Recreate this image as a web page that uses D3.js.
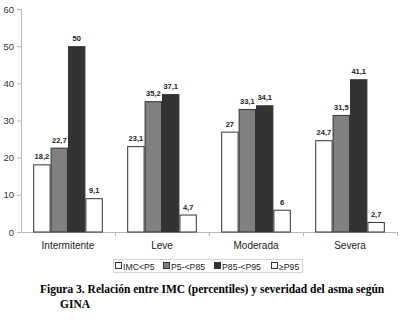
<!DOCTYPE html>
<html><head><meta charset="utf-8">
<script src="https://cdn.jsdelivr.net/npm/d3@7"></script>
<style>body{margin:0;background:#fff}svg{display:block}</style>
</head><body>
<script>
const categories = ["Intermitente","Leve","Moderada","Severa"];
const seriesNames = ["IMC<P5","P5-<P85","P85-<P95","≥P95"];
const imcP5 = [18.2, 23.1, 27, 24.7];
const p5p85 = [22.7, 35.2, 33.1, 31.5];
const p85p95 = [50, 37.1, 34.1, 41.1];
const geP95 = [9.1, 4.7, 6, 2.7];
const yTicks = [0,10,20,30,40,50,60];
const series = [imcP5, p5p85, p85p95, geP95];
const fills = ["#ffffff","#808080","#333333","#ffffff"];

const W=400,H=326;
const svg=d3.select("body").append("svg").attr("width",W).attr("height",H);
const x=d3.scaleBand().domain(categories).range([21,397]);
const xs=d3.scaleBand().domain(d3.range(4)).range([0,x.bandwidth()]).paddingOuter(0.7).paddingInner(0);
const y=d3.scaleLinear().domain([0,60]).range([232,9]);
const sans="Liberation Sans, Arial, sans-serif";

// y axis
svg.append("line").attr("x1",21.5).attr("x2",21.5).attr("y1",y(60)).attr("y2",y(0)).attr("stroke","#b8b8b8");
yTicks.forEach(t=>{
  svg.append("line").attr("x1",17).attr("x2",21).attr("y1",y(t)+0.5).attr("y2",y(t)+0.5).attr("stroke","#b8b8b8");
  svg.append("text").attr("x",14).attr("y",y(t)+3.5).attr("text-anchor","end")
    .attr("font-family",sans).attr("font-size",9.5).attr("fill","#333").text(t);
});
// x axis
svg.append("line").attr("x1",21).attr("x2",397).attr("y1",y(0)+0.5).attr("y2",y(0)+0.5).attr("stroke","#b8b8b8");
categories.forEach((c,i)=>{
  const bx=Math.round(x(c)+x.bandwidth())+0.5;
  svg.append("line").attr("x1",bx).attr("x2",bx).attr("y1",y(0)).attr("y2",y(0)+4).attr("stroke","#b8b8b8");
});

// bars
series.forEach((s,si)=>{
  categories.forEach((c,ci)=>{
    const bx=x(c)+xs(si), v=s[ci];
    svg.append("rect").attr("x",bx+0.5).attr("y",y(v)+0.5).attr("width",xs.bandwidth()-1).attr("height",y(0)-y(v)-0.5)
      .attr("fill",fills[si]).attr("stroke","#333").attr("stroke-width",1);
    svg.append("text").attr("x",bx+xs.bandwidth()/2).attr("y",y(v)-5).attr("text-anchor","middle")
      .attr("font-family",sans).attr("font-size",7.5).attr("font-weight","bold")
      .attr("fill","#222").text(String(v).replace(".",","));
  });
});

// category labels
categories.forEach(c=>{
  svg.append("text").attr("x",x(c)+x.bandwidth()/2).attr("y",248.5).attr("text-anchor","middle")
    .attr("font-family",sans).attr("font-size",10).attr("fill","#222").text(c);
});

// legend
svg.append("rect").attr("x",113.5).attr("y",259.5).attr("width",189).attr("height",13).attr("fill","#fff").attr("stroke","#d4d4d4");
const lx=[115,163,214,271];
seriesNames.forEach((n,i)=>{
  svg.append("rect").attr("x",lx[i]+0.5).attr("y",262.5).attr("width",6).attr("height",6).attr("fill",fills[i]).attr("stroke","#333");
  svg.append("text").attr("x",lx[i]+8).attr("y",269.5).attr("font-family",sans)
    .attr("font-size",8.7).attr("fill","#222").text(n);
});

// caption
const serif="Liberation Serif, Times New Roman, serif";
const cap=svg.append("text").attr("x",40).attr("y",293).attr("font-family",serif)
  .attr("font-weight","bold").attr("font-size",13).attr("fill","#000")
  .text("Figura 3. Relación entre IMC (percentiles) y severidad del asma según");
let fs=13;
while(cap.node().getComputedTextLength()>351 && fs>9){fs-=0.25;cap.attr("font-size",fs);}
svg.append("text").attr("x",60).attr("y",308).attr("font-family",serif)
  .attr("font-weight","bold").attr("font-size",fs).attr("fill","#000").text("GINA");
</script>
</body></html>
